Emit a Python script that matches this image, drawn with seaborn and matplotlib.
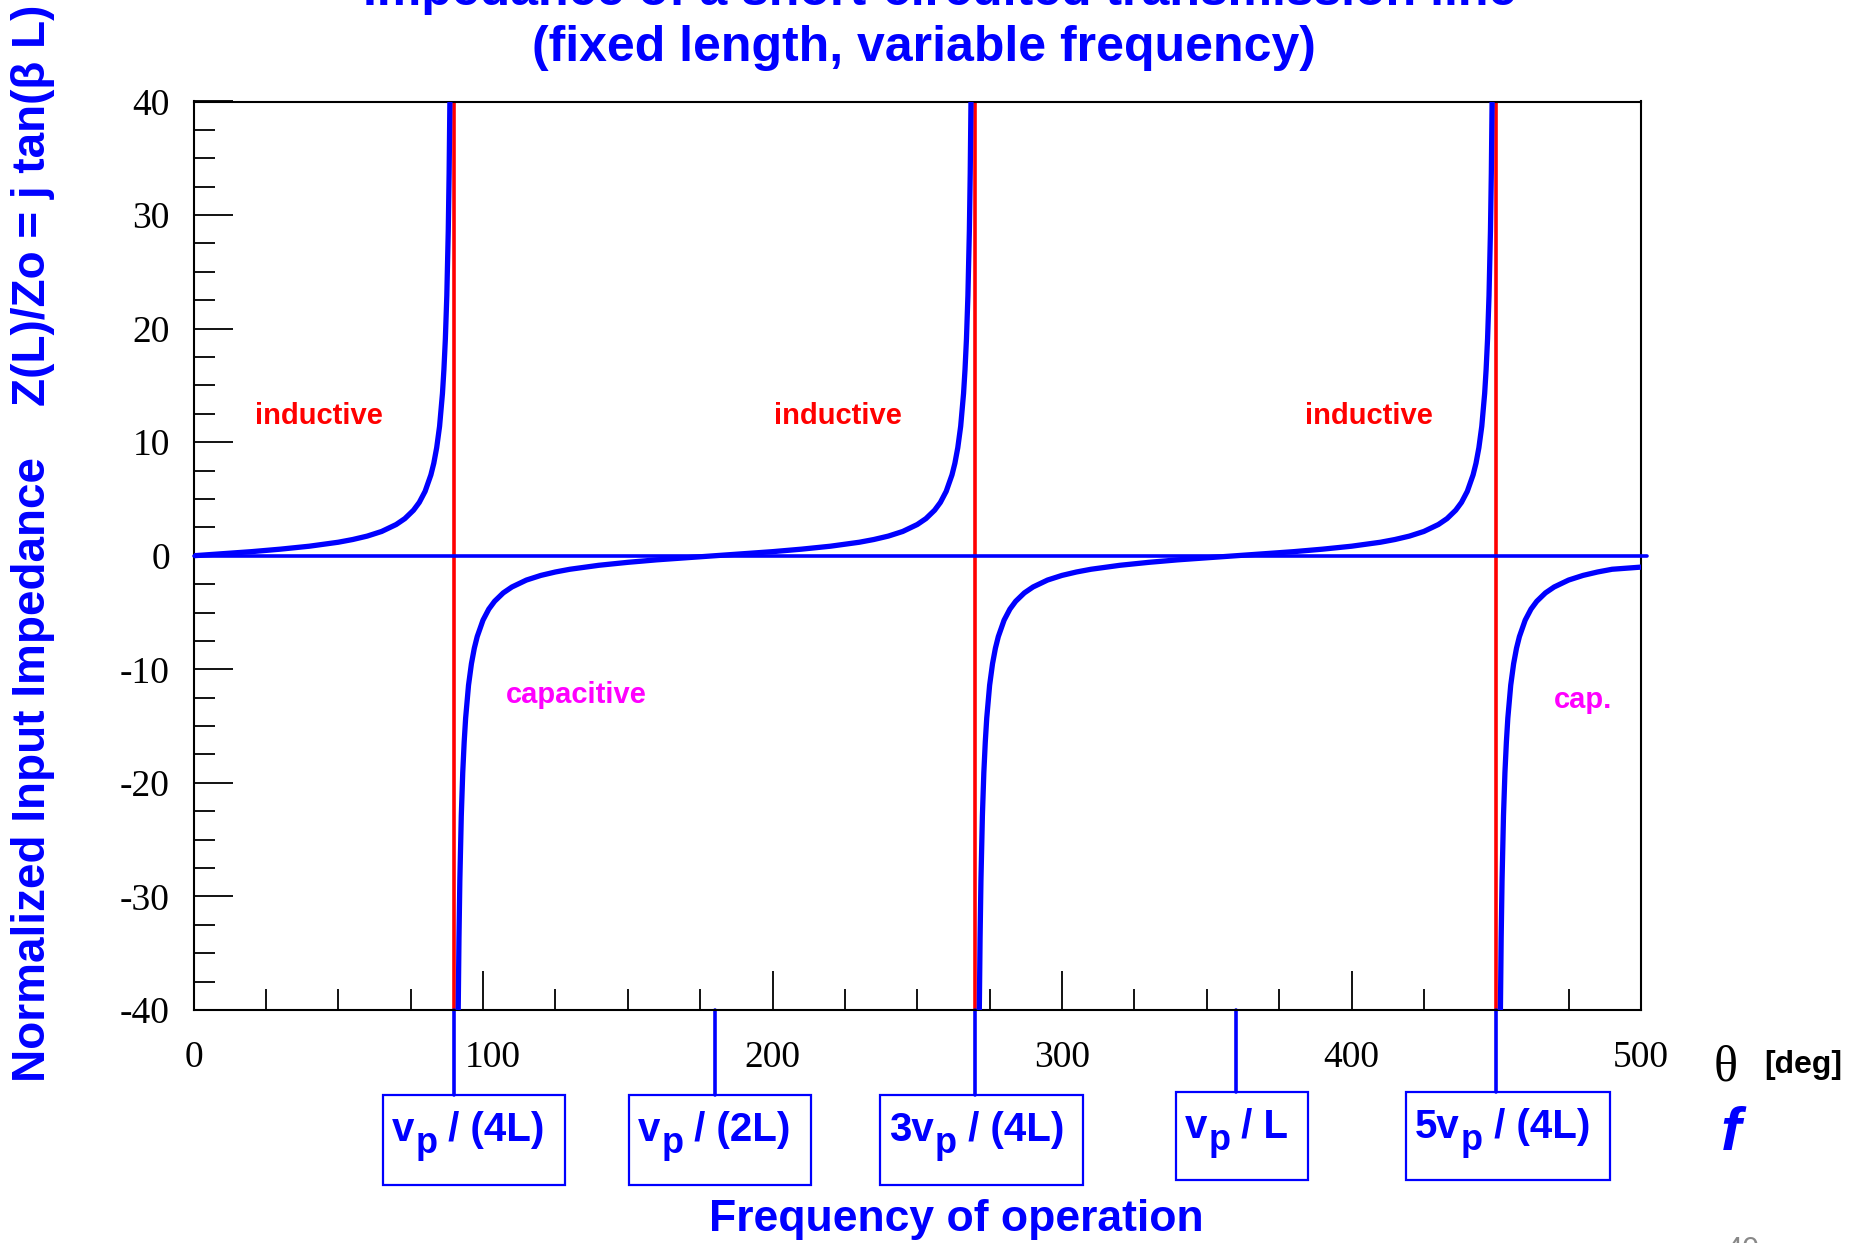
import numpy as np
import pandas as pd
import matplotlib
matplotlib.use('Agg')
import matplotlib.pyplot as plt
import matplotlib.patches as mpatches
import matplotlib.transforms as mtransforms
from matplotlib.ticker import MultipleLocator
import seaborn as sns


"""Curve read off the picture, one list per branch (theta in deg, Z/Zo)"""

theta_b1 = [0, 10, 20, 30, 40, 50, 55, 60, 65, 70, 73, 76, 78, 80, 82, 83, 84, 85,
            86, 86.5, 87, 87.5, 88, 88.3, 88.6]
z_b1 = [0, 0.18, 0.36, 0.58, 0.84, 1.19, 1.43, 1.73, 2.14, 2.75, 3.27, 4.01, 4.70, 5.67,
        7.12, 8.14, 9.51, 11.4, 14.3, 16.4, 19.1, 22.9, 28.6, 33.7, 40.9]

theta_b2 = [91.4, 91.7, 92, 92.5, 93, 93.5, 94, 95, 96, 97, 98, 100, 102, 104, 107, 110,
            115, 120, 125, 130, 140, 150, 160, 170, 180, 190, 200, 210, 220, 230, 235,
            240, 245, 250, 253, 256, 258, 260, 262, 263, 264, 265, 266, 266.5, 267,
            267.5, 268, 268.3, 268.6]
z_b2 = [-40.9, -33.7, -28.6, -22.9, -19.1, -16.4, -14.3, -11.4, -9.51, -8.14, -7.12,
        -5.67, -4.70, -4.01, -3.27, -2.75, -2.14, -1.73, -1.43, -1.19, -0.84, -0.58,
        -0.36, -0.18, 0, 0.18, 0.36, 0.58, 0.84, 1.19, 1.43, 1.73, 2.14, 2.75, 3.27,
        4.01, 4.70, 5.67, 7.12, 8.14, 9.51, 11.4, 14.3, 16.4, 19.1, 22.9, 28.6, 33.7, 40.9]

theta_b3 = [271.4, 271.7, 272, 272.5, 273, 273.5, 274, 275, 276, 277, 278, 280, 282, 284,
            287, 290, 295, 300, 305, 310, 320, 330, 340, 350, 360, 370, 380, 390, 400,
            410, 415, 420, 425, 430, 433, 436, 438, 440, 442, 443, 444, 445, 446, 446.5,
            447, 447.5, 448, 448.3, 448.6]
z_b3 = [-40.9, -33.7, -28.6, -22.9, -19.1, -16.4, -14.3, -11.4, -9.51, -8.14, -7.12,
        -5.67, -4.70, -4.01, -3.27, -2.75, -2.14, -1.73, -1.43, -1.19, -0.84, -0.58,
        -0.36, -0.18, 0, 0.18, 0.36, 0.58, 0.84, 1.19, 1.43, 1.73, 2.14, 2.75, 3.27,
        4.01, 4.70, 5.67, 7.12, 8.14, 9.51, 11.4, 14.3, 16.4, 19.1, 22.9, 28.6, 33.7, 40.9]

theta_b4 = [451.4, 451.7, 452, 452.5, 453, 453.5, 454, 455, 456, 457, 458, 460, 462, 464,
            467, 470, 475, 480, 485, 490, 500]
z_b4 = [-40.9, -33.7, -28.6, -22.9, -19.1, -16.4, -14.3, -11.4, -9.51, -8.14, -7.12,
        -5.67, -4.70, -4.01, -3.27, -2.75, -2.14, -1.73, -1.43, -1.19, -1.0]

asymptotes = [90, 270, 450]

xticks = [0, 100, 200, 300, 400, 500]
xtick_labels = ['0', '100', '200', '300', '400', '500']
yticks = [-40, -30, -20, -10, 0, 10, 20, 30, 40]
ytick_labels = ['-40', '-30', '-20', '-10', '0', '10', '20', '30', '40']

# region labels: text, theta, Z, colour
region_text = ['inductive', 'inductive', 'inductive', 'capacitive', 'cap.']
region_theta = [43.2, 222.5, 406, 132.4, 480]
region_z = [12.3, 12.3, 12.3, -12.3, -12.7]
region_color = ['red', 'red', 'red', 'magenta', 'magenta']

# frequency boxes under the axis: "<pre>v" + subscript p + suffix
box_theta = [90, 180, 270, 360, 450]
box_pre = ['v', 'v', '3v', 'v', '5v']
box_suf = [' / (4L)', ' / (2L)', ' / (4L)', ' / L', ' / (4L)']


df = pd.concat([
    pd.DataFrame({'theta': theta_b1, 'z': z_b1, 'branch': 1}),
    pd.DataFrame({'theta': theta_b2, 'z': z_b2, 'branch': 2}),
    pd.DataFrame({'theta': theta_b3, 'z': z_b3, 'branch': 3}),
    pd.DataFrame({'theta': theta_b4, 'z': z_b4, 'branch': 4}),
], ignore_index=True)


sns.set_theme(style='ticks')
plt.rcParams['font.family'] = ['Liberation Sans', 'DejaVu Sans']

W, H = 1850, 1243
fx = lambda px: px / W          # figure pixel -> fraction
fy = lambda py: 1 - py / H

fig = plt.figure(figsize=(W / 100, H / 100), dpi=100)
ax = fig.add_axes([fx(193.5), fy(1010), (1641 - 193.5) / W, (1010 - 101.5) / H])

for t in asymptotes:
    ax.axvline(t, color='red', lw=2.6, zorder=2)
ax.axhline(0, xmax=1.004, color='blue', lw=2.6, zorder=3, clip_on=False)

sns.lineplot(data=df, x='theta', y='z', units='branch', estimator=None, sort=False,
             color='blue', lw=3.8, legend=False, ax=ax, zorder=4)

ax.set_xlim(0, 500)
ax.set_ylim(-40, 40)
ax.set_xlabel('')
ax.set_ylabel('')
ax.set_xticks(xticks)
ax.set_xticklabels(xtick_labels, fontfamily='Liberation Serif', fontsize=27)
ax.set_yticks(yticks)
ax.set_yticklabels(ytick_labels, fontfamily='Liberation Serif', fontsize=27)
ax.xaxis.set_minor_locator(MultipleLocator(25))
ax.yaxis.set_minor_locator(MultipleLocator(2.5))
ax.tick_params(which='both', direction='in', top=False, right=False,
               color='black', width=1.3, labelcolor='black')
ax.tick_params(which='major', length=28)
ax.tick_params(which='minor', length=15)
ax.tick_params(axis='x', which='major', pad=22)
ax.tick_params(axis='y', which='major', pad=17)
for s in ax.spines.values():
    s.set_color('black')
    s.set_linewidth(1.5)

# "100" sits a little right of its tick in the original
lbl100 = ax.get_xticklabels()[1]
lbl100.set_transform(lbl100.get_transform() +
                     mtransforms.ScaledTranslation(10 / 100, 0, fig.dpi_scale_trans))

for txt, t, z, c in zip(region_text, region_theta, region_z, region_color):
    ax.text(t, z, txt, color=c, fontsize=21, weight='bold', ha='center', va='center')


#Boxes below the axis with connectors
renderer = fig.canvas.get_renderer()
trans = mtransforms.blended_transform_factory(ax.transData, fig.transFigure)
box_px = [(383, 1095, 565, 1185), (629, 1095, 811, 1185), (880, 1095, 1083, 1185),
          (1176, 1092, 1308, 1180), (1406, 1092, 1610, 1180)]
tkw = dict(weight='bold', color='blue', ha='left', va='baseline')
for t, pre, suf, (x0, y0, x1, y1) in zip(box_theta, box_pre, box_suf, box_px):
    ax.plot([t, t], [fy(1010), fy(y0)], transform=trans, clip_on=False,
            color='blue', lw=2.6)
    fig.add_artist(mpatches.Rectangle((fx(x0), fy(y1)), (x1 - x0) / W, (y1 - y0) / H,
                                      transform=fig.transFigure, fill=False,
                                      ec='blue', lw=1.6))
    yb = fy(y0 + 46)
    t1 = fig.text(fx(x0 + 9), yb, pre, fontsize=29, **tkw)
    xe = t1.get_window_extent(renderer).x1
    t2 = fig.text(fx(xe + 1), yb - 12 / H, 'p', fontsize=26, **tkw)
    xe = t2.get_window_extent(renderer).x1
    fig.text(fx(xe), yb, suf, fontsize=29, **tkw)


#Titles and labels
fig.text(fx(940), fy(5), 'Impedance of a short-circuited transmission line',
         fontsize=36, weight='bold', color='blue', ha='center', va='baseline')
fig.text(fx(924), fy(61), '(fixed length, variable frequency)',
         fontsize=36, weight='bold', color='blue', ha='center', va='baseline')
fig.text(fx(33), fy(543), 'Normalized Input Impedance    Z(L)/Zo = j tan(\u03b2 L)',
         rotation=90, fontsize=33, weight='bold', color='blue', ha='center', va='center')
fig.text(fx(956), fy(1219), 'Frequency of operation', fontsize=32, weight='bold',
         color='blue', ha='center', va='center')
fig.text(fx(1726), fy(1068), '\u03b8', fontfamily='Liberation Serif', fontsize=36,
         color='black', ha='center', va='center')
fig.text(fx(1764), fy(1065), '[deg]', fontsize=23, weight='bold', color='black',
         ha='left', va='center')
fig.text(fx(1731), fy(1135), 'f', fontsize=44, weight='bold', style='italic',
         color='blue', ha='center', va='center')
fig.text(fx(1742), fy(1236), '40', fontsize=22, color='#888888', ha='center', va='top')

fig.savefig('out.png', dpi=100)
